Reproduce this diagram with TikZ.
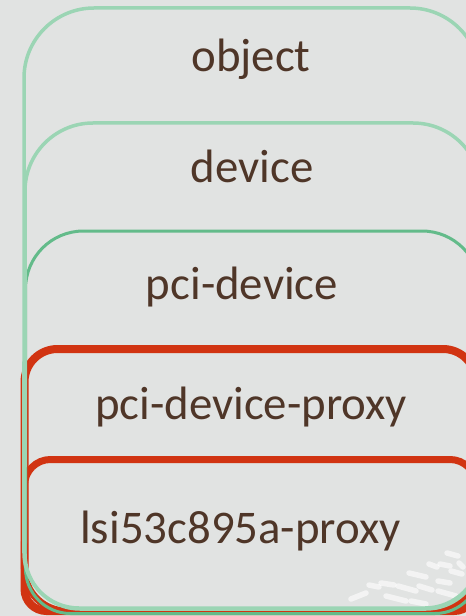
\documentclass[tikz,border=0pt]{standalone}
\usepackage{fontspec}
\setmainfont{Carlito}
\definecolor{bggray}{HTML}{E1E3E2}
\definecolor{palegreen}{HTML}{9BD5B4}
\definecolor{midgreen}{HTML}{63BB8A}
\definecolor{proxyred}{HTML}{D13412}
\definecolor{labelbrown}{HTML}{4F3628}

% One layer of the stack: a frame with its own top and bottom corner radii.
% #1 style, #2 left, #3 top, #4 right, #5 bottom, #6 top radius, #7 bottom radius
\newcommand{\layerframe}[7]{%
  \draw[#1] (#2,-#3-#6) arc[start angle=180,end angle=90,radius=#6bp]
    -- (#4-#6,-#3) arc[start angle=90,end angle=0,radius=#6bp]
    -- (#4,-#5+#7) arc[start angle=0,end angle=-90,radius=#7bp]
    -- (#2+#7,-#5) arc[start angle=270,end angle=180,radius=#7bp] -- cycle;}

\tikzset{
  paleframe/.style={draw=palegreen,line width=3.5bp},
  midframe/.style={draw=midgreen,line width=3bp},
  redframe/.style={draw=proxyred,line width=8bp},
  layerlabel/.style={anchor=base,inner sep=0pt,text=labelbrown,
    font=\fontsize{47}{56}\selectfont},
  texturestroke/.style={draw=white,line width=5.5bp,line cap=round,opacity=0.6}
}

\begin{document}
\begin{tikzpicture}[x=1bp,y=1bp]
  \useasboundingbox (0,0) rectangle (466,-616);
  \fill[bggray] (0,0) rectangle (466,-616);
  \clip (0,0) rectangle (466,-616);

  % white dash texture in the lower right corner
  \foreach \xa/\ya/\xb/\yb in {
      447/553/458/556, 459/563/463/567, 429/564/437/567, 440/564/450/566,
      409/573/426/577, 451/571/462/574, 438/581/450/583, 398/586/416/591,
      419/586/432/590, 381/583/394/585, 369/585/379/587, 351/599/366/593,
      386/596/406/601, 411/601/426/604, 438/591/456/596}
    \draw[texturestroke] (\xa,-\ya) -- (\xb,-\yb);

  % proxy layers
  \layerframe{redframe}{24.5}{349}{476}{611}{33}{22}
  \layerframe{redframe,line width=7bp}{24.5}{459.5}{476}{611}{26}{42}

  % class layers
  \layerframe{midframe}{25.5}{231}{480}{613.5}{58}{45}
  \layerframe{paleframe}{25}{123}{481}{609}{68}{55}
  \layerframe{paleframe}{24}{8}{480}{608}{70}{55}

  % labels
  \node[layerlabel] (object) at (251,-72) {object};
  \node[layerlabel] (device) at (252,-183) {device};
  \node[layerlabel] (pcidev) at (242,-299) {pci-device};
  \node[layerlabel] (pciproxy) at (251,-419) {pci-device-proxy};
  \node[layerlabel] (lsiproxy) at (240.5,-543) {lsi53c895a-proxy};
\end{tikzpicture}
\end{document}
